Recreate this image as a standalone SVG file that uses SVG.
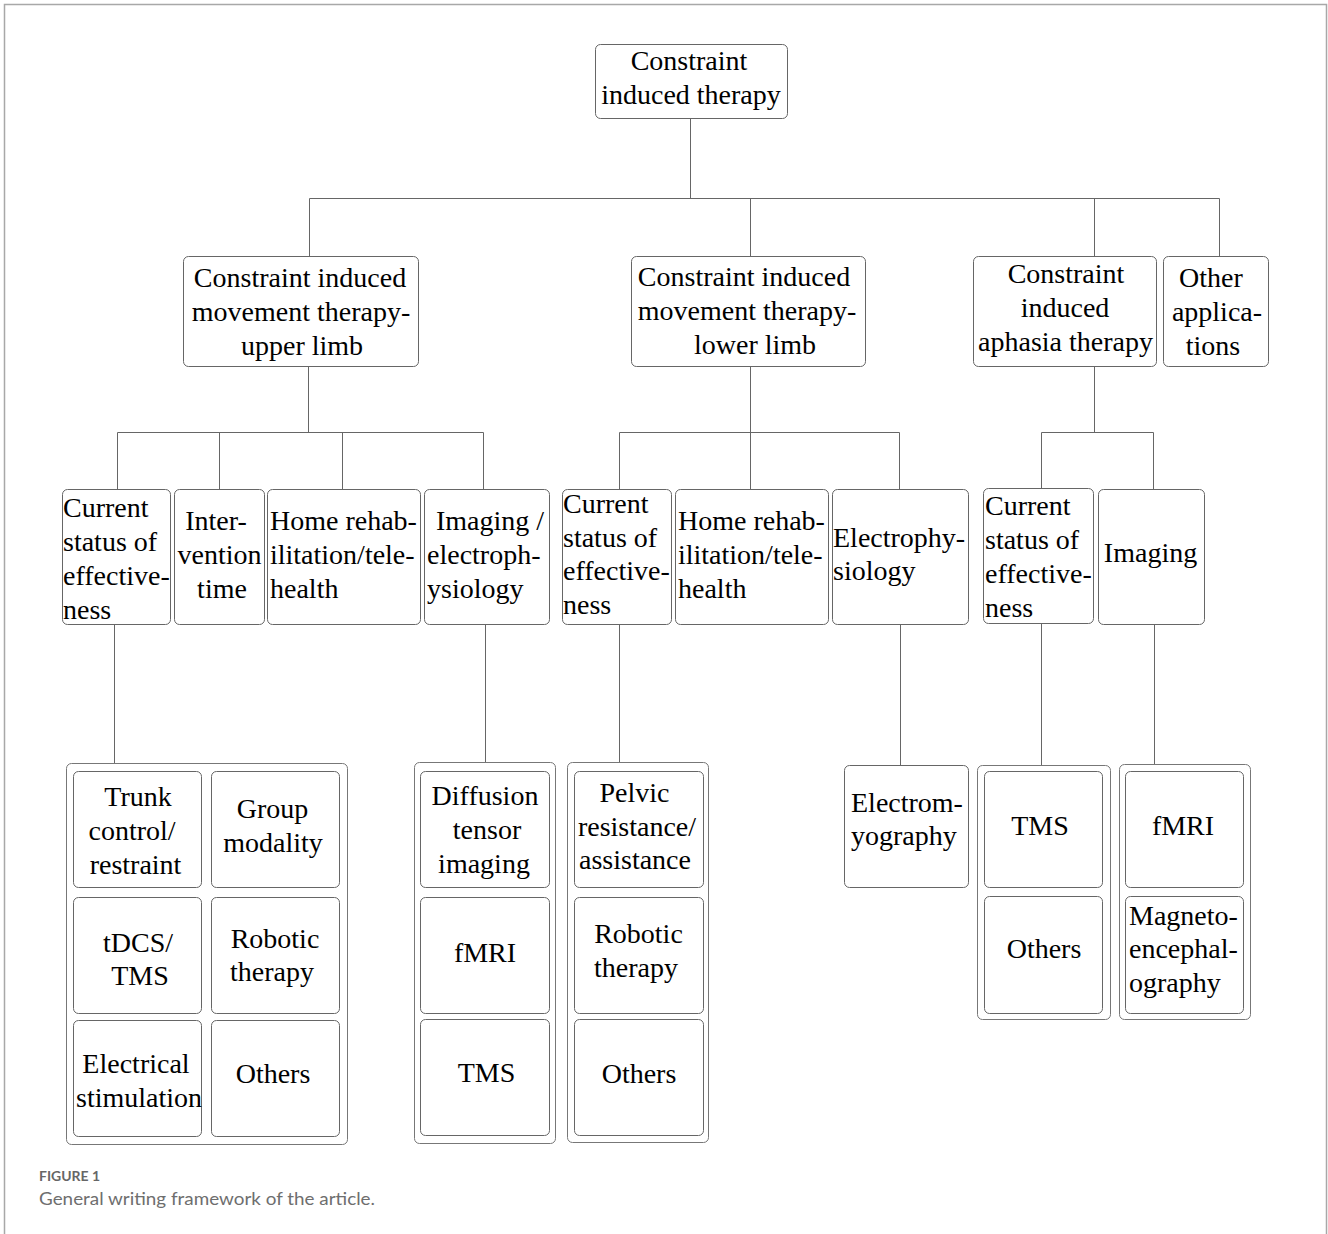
<svg xmlns="http://www.w3.org/2000/svg" width="1328" height="1234" viewBox="0 0 1328 1234">
<style>
.frame{fill:none;stroke:#a8a8a8;stroke-width:1.5}
.box{fill:#fff;stroke:#666;stroke-width:1}
.grp{fill:#fff;stroke:#777;stroke-width:1}
.conn{fill:none;stroke:#666;stroke-width:1}
.t{font-family:"Liberation Serif","Times New Roman",serif;font-size:28px;fill:#000}
.m{text-anchor:middle}
.cap1{font-family:Lato,"Open Sans",sans-serif;font-size:13.5px;font-weight:bold;fill:#666}
.cap2{font-family:Lato,"Open Sans",sans-serif;font-size:18px;fill:#6e6e6e}
</style>
<rect width="1328" height="1234" fill="#fff"/>
<path class="frame" d="M4.5,1234 V4.5 H1326.5 V1234"/>
<g id="connectors">
<path class="conn" d="M690.5,118 V198.5 M309.5,198.5 H1219.5 M309.5,198.5 V256 M750.5,198.5 V256 M1094.5,198.5 V256 M1219.5,198.5 V256"/>
<path class="conn" d="M308.5,366 V432.5 M117.5,432.5 H483.5 M117.5,432.5 V489 M219.5,432.5 V489 M342.5,432.5 V489 M483.5,432.5 V489"/>
<path class="conn" d="M750.5,366 V432.5 M619.5,432.5 H899.5 M619.5,432.5 V489 M750.5,432.5 V489 M899.5,432.5 V489"/>
<path class="conn" d="M1094.5,366 V432.5 M1041.5,432.5 H1153.5 M1041.5,432.5 V488 M1153.5,432.5 V489"/>
<path class="conn" d="M114.5,624 V763 M485.5,624 V762 M619.5,624 V762 M900.5,624 V765 M1041.5,623 V765 M1154.5,624 V764"/>
</g>
<g id="root">
<rect class="box" x="595.5" y="44.5" width="192" height="74" rx="5"/>
<text class="t m" x="689" y="70">Constraint</text>
<text class="t m" x="691" y="104">induced therapy</text>
</g>
<g id="cimt-upper">
<rect class="box" x="183.5" y="256.5" width="235" height="110" rx="5"/>
<text class="t m" x="300" y="287">Constraint induced</text>
<text class="t m" x="301" y="321">movement therapy-</text>
<text class="t m" x="302" y="355">upper limb</text>
</g>
<g id="cimt-lower">
<rect class="box" x="631.5" y="256.5" width="234" height="110" rx="5"/>
<text class="t m" x="744" y="286">Constraint induced</text>
<text class="t m" x="747" y="320">movement therapy-</text>
<text class="t m" x="755" y="354">lower limb</text>
</g>
<g id="ciat">
<rect class="box" x="973.5" y="256.5" width="183" height="110" rx="5"/>
<text class="t m" x="1066" y="283">Constraint</text>
<text class="t m" x="1065" y="317">induced</text>
<text class="t m" x="1065.5" y="351">aphasia therapy</text>
</g>
<g id="other-applications">
<rect class="box" x="1163.5" y="256.5" width="105" height="110" rx="5"/>
<text class="t m" x="1211" y="287">Other</text>
<text class="t m" x="1217" y="321">applica-</text>
<text class="t m" x="1213" y="355">tions</text>
</g>
<g id="u-current">
<rect class="box" x="62.5" y="489.5" width="108" height="135" rx="5"/>
<text class="t" x="63" y="517">Current</text>
<text class="t" x="63" y="551">status of</text>
<text class="t" x="63" y="585">effective-</text>
<text class="t" x="63" y="619">ness</text>
</g>
<g id="u-intervention">
<rect class="box" x="174.5" y="489.5" width="90" height="135" rx="5"/>
<text class="t m" x="216" y="530">Inter-</text>
<text class="t m" x="219.5" y="564">vention</text>
<text class="t m" x="222" y="598">time</text>
</g>
<g id="u-home">
<rect class="box" x="267.5" y="489.5" width="153" height="135" rx="5"/>
<text class="t" x="270" y="530">Home rehab-</text>
<text class="t" x="270" y="564">ilitation/tele-</text>
<text class="t" x="270" y="598">health</text>
</g>
<g id="u-imaging">
<rect class="box" x="424.5" y="489.5" width="125" height="135" rx="5"/>
<text class="t" x="436" y="530">Imaging /</text>
<text class="t" x="427" y="564">electroph-</text>
<text class="t" x="427" y="598">ysiology</text>
</g>
<g id="l-current">
<rect class="box" x="562.5" y="489.5" width="109" height="135" rx="5"/>
<text class="t" x="563" y="513">Current</text>
<text class="t" x="563" y="547">status of</text>
<text class="t" x="563" y="580">effective-</text>
<text class="t" x="563" y="614">ness</text>
</g>
<g id="l-home">
<rect class="box" x="675.5" y="489.5" width="153" height="135" rx="5"/>
<text class="t" x="678" y="530">Home rehab-</text>
<text class="t" x="678" y="564">ilitation/tele-</text>
<text class="t" x="678" y="598">health</text>
</g>
<g id="l-electro">
<rect class="box" x="832.5" y="489.5" width="136" height="135" rx="5"/>
<text class="t" x="833" y="547">Electrophy-</text>
<text class="t" x="833" y="580">siology</text>
</g>
<g id="a-current">
<rect class="box" x="983.5" y="488.5" width="110" height="135" rx="5"/>
<text class="t" x="985" y="515">Current</text>
<text class="t" x="985" y="549">status of</text>
<text class="t" x="985" y="583">effective-</text>
<text class="t" x="985" y="617">ness</text>
</g>
<g id="a-imaging">
<rect class="box" x="1098.5" y="489.5" width="106" height="135" rx="5"/>
<text class="t m" x="1150.5" y="562">Imaging</text>
</g>
<g id="u-methods">
<rect class="grp" x="66.5" y="763.5" width="281" height="381" rx="5"/>
<rect class="box" x="73.5" y="771.5" width="128" height="116" rx="5"/>
<rect class="box" x="211.5" y="771.5" width="128" height="116" rx="5"/>
<rect class="box" x="73.5" y="897.5" width="128" height="116" rx="5"/>
<rect class="box" x="211.5" y="897.5" width="128" height="116" rx="5"/>
<rect class="box" x="73.5" y="1020.5" width="128" height="116" rx="5"/>
<rect class="box" x="211.5" y="1020.5" width="128" height="116" rx="5"/>
<text class="t m" x="138" y="806">Trunk</text>
<text class="t m" x="132" y="840">control/</text>
<text class="t m" x="135.5" y="874">restraint</text>
<text class="t m" x="272.5" y="818">Group</text>
<text class="t m" x="273" y="852">modality</text>
<text class="t m" x="138" y="952">tDCS/</text>
<text class="t m" x="140" y="985">TMS</text>
<text class="t m" x="275" y="948">Robotic</text>
<text class="t m" x="272" y="981">therapy</text>
<text class="t m" x="136" y="1073">Electrical</text>
<text class="t m" x="139" y="1107">stimulation</text>
<text class="t m" x="273" y="1083">Others</text>
</g>
<g id="u-imaging-methods">
<rect class="grp" x="414.5" y="762.5" width="141" height="381" rx="5"/>
<rect class="box" x="420.5" y="771.5" width="129" height="116" rx="5"/>
<rect class="box" x="420.5" y="897.5" width="129" height="116" rx="5"/>
<rect class="box" x="420.5" y="1019.5" width="129" height="116" rx="5"/>
<text class="t m" x="485" y="805">Diffusion</text>
<text class="t m" x="487" y="839">tensor</text>
<text class="t m" x="484" y="873">imaging</text>
<text class="t m" x="485" y="962">fMRI</text>
<text class="t m" x="486.5" y="1082">TMS</text>
</g>
<g id="l-methods">
<rect class="grp" x="567.5" y="762.5" width="141" height="380" rx="5"/>
<rect class="box" x="574.5" y="771.5" width="129" height="116" rx="5"/>
<rect class="box" x="574.5" y="897.5" width="129" height="116" rx="5"/>
<rect class="box" x="574.5" y="1019.5" width="129" height="116" rx="5"/>
<text class="t m" x="634.5" y="802">Pelvic</text>
<text class="t m" x="637" y="836">resistance/</text>
<text class="t m" x="635" y="869">assistance</text>
<text class="t m" x="638.5" y="943">Robotic</text>
<text class="t m" x="636" y="977">therapy</text>
<text class="t m" x="639" y="1083">Others</text>
</g>
<g id="l-emg">
<rect class="box" x="844.5" y="765.5" width="124" height="122" rx="5"/>
<text class="t" x="851" y="812">Electrom-</text>
<text class="t" x="851" y="845">yography</text>
</g>
<g id="a-methods">
<rect class="grp" x="977.5" y="765.5" width="133" height="254" rx="5"/>
<rect class="box" x="984.5" y="771.5" width="118" height="116" rx="5"/>
<rect class="box" x="984.5" y="896.5" width="118" height="117" rx="5"/>
<text class="t m" x="1040" y="835">TMS</text>
<text class="t m" x="1044" y="958">Others</text>
</g>
<g id="a-imaging-methods">
<rect class="grp" x="1119.5" y="764.5" width="131" height="255" rx="5"/>
<rect class="box" x="1125.5" y="771.5" width="118" height="116" rx="5"/>
<rect class="box" x="1125.5" y="896.5" width="118" height="117" rx="5"/>
<text class="t m" x="1183" y="835">fMRI</text>
<text class="t" x="1129" y="925">Magneto-</text>
<text class="t" x="1129" y="958">encephal-</text>
<text class="t" x="1129" y="992">ography</text>
</g>
<g id="caption">
<text class="cap1" x="39" y="1181" textLength="61" lengthAdjust="spacingAndGlyphs">FIGURE 1</text>
<text class="cap2" x="39" y="1205" textLength="336" lengthAdjust="spacingAndGlyphs">General writing framework of the article.</text>
</g>
</svg>
